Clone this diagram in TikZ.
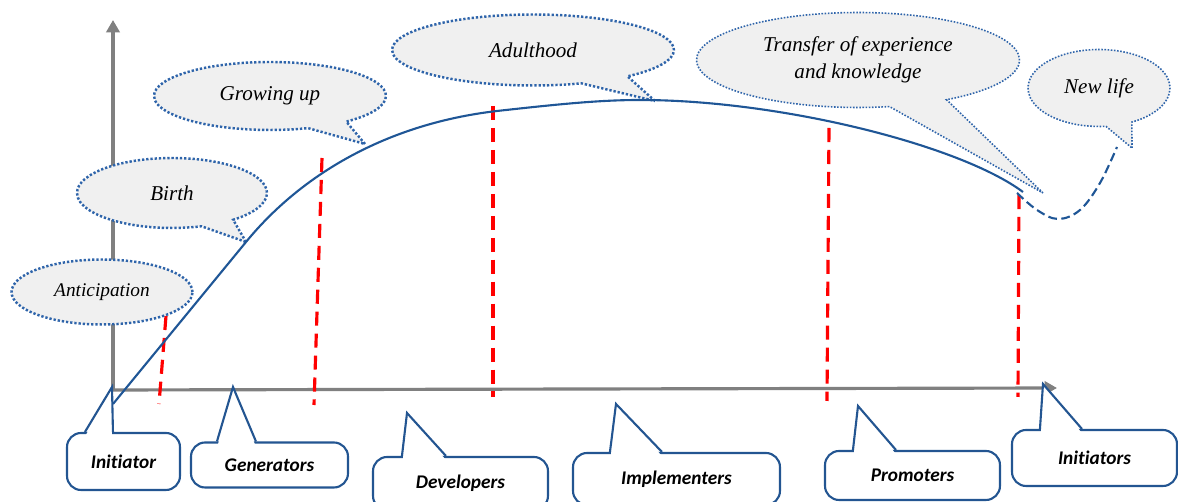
\documentclass[tikz,border=0pt]{standalone}
\usepackage{fontspec}
\setmainfont{Liberation Serif}
\newfontfamily\rolefont[Ligatures={NoCommon}]{Carlito}
\usetikzlibrary{arrows.meta,calc,shapes.geometric,shapes.callouts}
\definecolor{curveblue}{RGB}{31,86,150}
\definecolor{boxblue}{RGB}{35,85,145}
\definecolor{dotblue}{RGB}{46,100,170}
\definecolor{bubblegray}{RGB}{240,240,240}
\definecolor{axisgray}{RGB}{128,128,128}
\tikzset{
    axisline/.style={draw=axisgray, line width=1.8pt, -{Triangle[length=7pt, width=7.5pt]}},
    phaseline/.style={draw=red, line width=1.8pt, dash pattern=on 8pt off 4.5pt},
    lifecurve/.style={draw=curveblue, line width=1.2pt},
    phasebubble/.style={draw=dotblue, fill=bubblegray, line width=1.4pt, dash pattern=on 1.3pt off 1.1pt, inner sep=0pt, align=center, callout pointer arc=22, font=\itshape\fontsize{12}{15}\selectfont},
    thinbubble/.style={phasebubble, line width=0.9pt, dash pattern=on 0.9pt off 0.9pt},
    rolebox/.style={draw=boxblue, fill=white, line width=1.2pt, rounded corners=8pt, inner sep=0pt, font=\rolefont\bfseries\itshape\fontsize{11}{13}\selectfont},
    roletail/.style={draw=boxblue, line width=1.2pt}
}

\begin{document}
\begin{tikzpicture}[x=0.02cm, y=-0.02cm]
    \useasboundingbox (0,0) rectangle (1178,502);
    % axes
    \coordinate (origin) at (113,390);
    \coordinate (ytop) at (113,20);
    \coordinate (xend) at (1057,388);
    \draw[axisline] (origin) -- (ytop);
    \draw[axisline] (origin) -- (xend);
    % phase borders
    \draw[phaseline] (166,316) -- (159,404);
    \draw[phaseline] (322,158) -- (314,405);
    \draw[phaseline] (493,106) -- (493,397);
    \draw[phaseline] (829,128) -- (827,401);
    \draw[phaseline] (1019,195) -- (1018,397);
    % life stages
    \node[phasebubble, ellipse, minimum width=3.62cm, minimum height=1.3cm, font=\itshape\fontsize{11}{13}\selectfont] (anticip) at (102,292) {Anticipation};
    \node[phasebubble, ellipse callout, callout absolute pointer={(246,242)}, minimum width=3.8cm, minimum height=1.4cm] (birth) at (172,193) {Birth};
    \node[phasebubble, ellipse callout, callout absolute pointer={(365,144)}, minimum width=4.64cm, minimum height=1.36cm] (growing) at (270,96) {Growing up};
    \node[phasebubble, ellipse callout, callout absolute pointer={(655,101)}, minimum width=5.64cm, minimum height=1.42cm] (adult) at (533,50) {Adulthood};
    \node[thinbubble, ellipse callout, callout absolute pointer={(1043,193)}, minimum width=6.46cm, minimum height=1.9cm] (transfer) at (858,60) {Transfer of experience\\and knowledge};
    \node[thinbubble, ellipse callout, callout absolute pointer={(1132,148)}, minimum width=2.84cm, minimum height=1.54cm] (newlife) at (1099,88) {New life};
    % life curve
    \draw[lifecurve] (113,404) -- (246,242) .. controls (300,176) and (385,124) .. (497,111)
        .. controls (560,104) and (600,100) .. (640,100) .. controls (780,100) and (960,145) .. (1023,192);
    \draw[lifecurve, dash pattern=on 5pt off 2.5pt] plot[smooth, tension=0.6] coordinates {(1017,193) (1037,210) (1058,219) (1080,210) (1100,183) (1117,147)};
    % roles
    \node[rolebox, minimum width=2.26cm, minimum height=1.14cm] (ini) at (123.5,461.5) {Initiator};
    \node[rolebox, minimum width=3.14cm, minimum height=0.9cm] (gen) at (269.5,465) {Generators};
    \node[rolebox, minimum width=3.5cm, minimum height=1.06cm] (dev) at (460.5,483.5) {Developers};
    \node[rolebox, minimum width=4.14cm, minimum height=1.04cm] (imp) at (676.5,479) {Implementers};
    \node[rolebox, minimum width=3.5cm, minimum height=0.98cm] (pro) at (912.5,475.5) {Promoters};
    \node[rolebox, minimum width=3.3cm, minimum height=1.12cm] (inis) at (1094.5,458) {Initiators};
    \foreach \nm/\tx/\ty/\la/\lb in {ini/112/387/19/47, gen/233/387/27/66, dev/407/413/30/74, imp/616/404/38/90, pro/858/406/29/72, inis/1043/384/29/71}{
        \fill[white] ($(\nm.north west)+(\la+1,3)$) -- (\tx,\ty) -- ($(\nm.north west)+(\lb-1,3)$) -- cycle;
        \draw[roletail] ($(\nm.north west)+(\la,0)$) -- (\tx,\ty) -- ($(\nm.north west)+(\lb,0)$);
    }
\end{tikzpicture}
\end{document}
